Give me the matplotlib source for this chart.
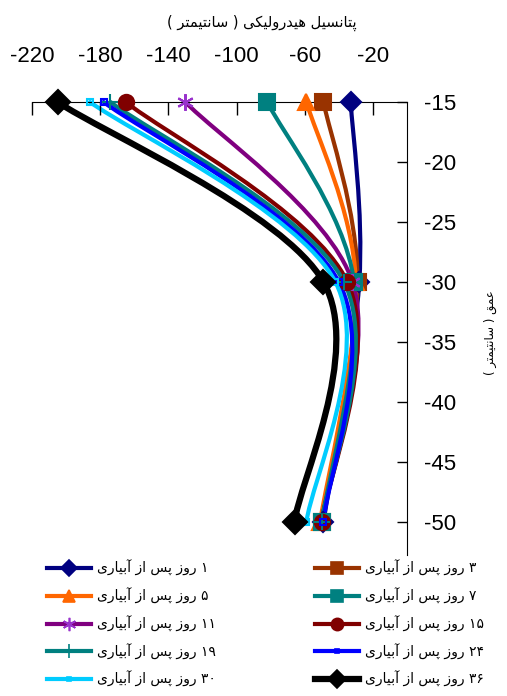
import re
import numpy as np
import matplotlib
matplotlib.use('Agg')
import matplotlib.pyplot as plt
from matplotlib.path import Path
from matplotlib.patches import PathPatch
from matplotlib.lines import Line2D

plt.rcParams['axes.unicode_minus'] = False

# %% data
depth = [-15, -30, -50]
days = ['۱', '۳', '۵', '۷', '۱۱', '۱۵', '۱۹', '۲۴', '۳۰', '۳۶']
h_1 = [-33, -28, -49]
h_3 = [-49, -29, -50]
h_5 = [-59, -30, -51]
h_7 = [-82, -31, -50]
h_11 = [-130, -32, -50]
h_15 = [-165, -35, -50]
h_19 = [-174, -37, -50]
h_24 = [-178, -40, -49]
h_30 = [-186, -42, -59]
h_36 = [-205, -49, -66]
series = [h_1, h_3, h_5, h_7, h_11, h_15, h_19, h_24, h_30, h_36]

title_txt = 'پتانسیل هیدرولیکی ( سانتیمتر )'
ylabel_txt = 'عمق ( سانتیمتر )'
label_txt = ' روز پس از آبیاری'

# %% styles: color, marker, marker size, marker face, line width
styles = [
    ('#000080', 'D', 10, '#000080', 3),
    ('#993300', 's', 11, '#993300', 3),
    ('#FF6600', '^', 11, '#FF6600', 3),
    ('#008080', 's', 11, '#008080', 3),
    ('#800080', (6, 2, 0), 12, '#9933CC', 3),
    ('#800000', 'o', 11, '#800000', 3),
    ('#008080', '+', 12, '#008080', 3),
    ('#0000FF', 's', 4, 'none', 3),
    ('#00CCFF', 's', 4, 'none', 3),
    ('#000000', 'D', 12, '#000000', 4.5),
]

# %% persian shaping (matplotlib has no shaping / bidi)
FORMS = {
    'ا': ('\uFE8D', '\uFE8E', None, None),
    'آ': ('\uFE81', '\uFE82', None, None),
    'د': ('\uFEA9', '\uFEAA', None, None),
    'ر': ('\uFEAD', '\uFEAE', None, None),
    'ز': ('\uFEAF', '\uFEB0', None, None),
    'و': ('\uFEED', '\uFEEE', None, None),
    'ب': ('\uFE8F', '\uFE90', '\uFE91', '\uFE92'),
    'پ': ('\uFB56', '\uFB57', '\uFB58', '\uFB59'),
    'ت': ('\uFE95', '\uFE96', '\uFE97', '\uFE98'),
    'ن': ('\uFEE5', '\uFEE6', '\uFEE7', '\uFEE8'),
    'س': ('\uFEB1', '\uFEB2', '\uFEB3', '\uFEB4'),
    'ی': ('\uFBFC', '\uFBFD', '\uFBFE', '\uFBFF'),
    'ل': ('\uFEDD', '\uFEDE', '\uFEDF', '\uFEE0'),
    'ه': ('\uFEE9', '\uFEEA', '\uFEEB', '\uFEEC'),
    'ک': ('\uFB8E', '\uFB8F', '\uFB90', '\uFB91'),
    'م': ('\uFEE1', '\uFEE2', '\uFEE3', '\uFEE4'),
    'ع': ('\uFEC9', '\uFECA', '\uFECB', '\uFECC'),
    'ق': ('\uFED5', '\uFED6', '\uFED7', '\uFED8'),
}


def fa(s):
    out = []
    for i, c in enumerate(s):
        if c not in FORMS:
            out.append(c)
            continue
        prev = s[i-1] if i > 0 else ''
        nxt = s[i+1] if i < len(s)-1 else ''
        pj = prev in FORMS and FORMS[prev][2] is not None
        nj = nxt in FORMS and FORMS[c][2] is not None
        if pj and nj:
            out.append(FORMS[c][3])
        elif pj:
            out.append(FORMS[c][1])
        elif nj:
            out.append(FORMS[c][2])
        else:
            out.append(FORMS[c][0])
    runs = re.findall(r'[۰-۹0-9]+|[^۰-۹0-9]', ''.join(out))
    vis = ''.join(runs[::-1])
    return vis.translate(str.maketrans('()', ')('))


def smooth_path(xs, ys):
    # excel-like smoothed line through the points
    pts = np.column_stack([xs, ys]).astype(float)
    n = len(pts)
    verts = [pts[0]]
    codes = [Path.MOVETO]
    for i in range(n-1):
        p0 = pts[max(i-1, 0)]
        p1 = pts[i]
        p2 = pts[i+1]
        p3 = pts[min(i+2, n-1)]
        verts += [p1 + (p2-p0)/6, p2 - (p3-p1)/6, p2]
        codes += [Path.CURVE4]*3
    return Path(verts, codes)


# %% plot
fig = plt.figure(figsize=(5.07, 6.96), dpi=100)
ax = fig.add_axes([32/507, 141/696, 375/507, 453/696])

handles = []
for vals, st in zip(series, styles):
    col, mk, ms, mfc, lw = st
    ax.add_patch(PathPatch(smooth_path(vals, depth), facecolor='none',
                           edgecolor=col, lw=lw, capstyle='round', clip_on=False))
    ax.plot(vals, depth, ls='none', marker=mk, ms=ms, mfc=mfc, mec=mfc if mfc != 'none' else col,
            mew=1.5, clip_on=False, zorder=3)
    handles.append(Line2D([], [], color=col, lw=lw, marker=mk, ms=ms*0.8,
                          mfc=mfc, mec=mfc if mfc != 'none' else col, mew=1.2))

ax.set_xlim(-220, 0)
ax.set_ylim(-52.75, -15)
ax.set_xticks(np.arange(-220, 0, 40))
ax.set_yticks(np.arange(-50, -14, 5))
ax.xaxis.tick_top()
ax.yaxis.tick_right()
ax.spines['left'].set_visible(False)
ax.spines['bottom'].set_visible(False)
ax.tick_params(axis='x', direction='in', length=9, width=1, pad=25.5, labelsize=16)
ax.tick_params(axis='y', direction='in', length=7, width=1, pad=12, labelsize=16)
for t in ax.get_xticklabels() + ax.get_yticklabels():
    t.set_family('Liberation Sans')
ax.patch.set_visible(False)

fig.text(262/507, 1-23/696, fa(title_txt), ha='center', va='center',
         family='DejaVu Sans', fontsize=10.5)
fig.text(490/507, 1-333/696, fa(ylabel_txt), ha='center', va='center',
         rotation=90, family='DejaVu Sans', fontsize=8.5)

# legend in two columns, rows 1,3 / 5,7 / ...
labels = [fa(d + label_txt) for d in days]
left_idx = [0, 2, 4, 6, 8]
right_idx = [1, 3, 5, 7, 9]
leg_kw = dict(loc='upper left', frameon=False, prop={'family': 'DejaVu Sans', 'size': 10},
              handlelength=3.2, handletextpad=0.4, labelspacing=0.84, borderpad=0, borderaxespad=0)
leg1 = fig.legend([handles[i] for i in left_idx], [labels[i] for i in left_idx],
                  bbox_to_anchor=(47/507, 1-560/696), **leg_kw)
leg2 = fig.legend([handles[i] for i in right_idx], [labels[i] for i in right_idx],
                  bbox_to_anchor=(315/507, 1-560/696), **leg_kw)

plt.savefig('out.png', dpi=100)
